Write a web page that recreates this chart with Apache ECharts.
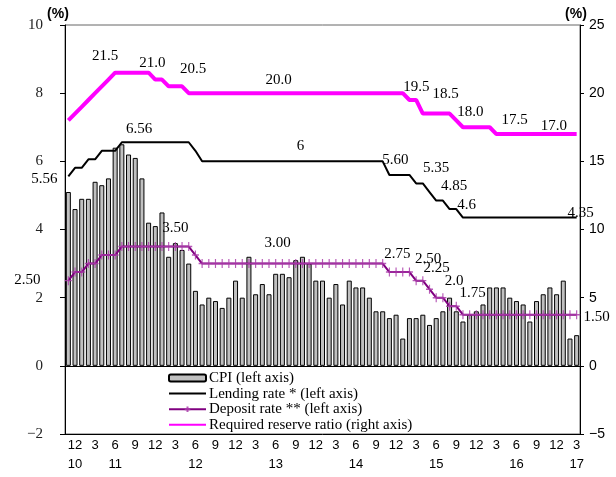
<!DOCTYPE html>
<html>
<head>
<meta charset="utf-8">
<script src="https://cdn.jsdelivr.net/npm/echarts@6/dist/echarts.min.js"></script>
<style>
  html, body { margin: 0; padding: 0; background: #fff; }
  #chart { width: 616px; height: 477px; }
</style>
</head>
<body>
<div id="chart"></div>
<script>
// Monthly categories, Nov 2010 – Mar 2017
const months = [
  '2010-11','2010-12',
  '2011-01','2011-02','2011-03','2011-04','2011-05','2011-06','2011-07','2011-08','2011-09','2011-10','2011-11','2011-12',
  '2012-01','2012-02','2012-03','2012-04','2012-05','2012-06','2012-07','2012-08','2012-09','2012-10','2012-11','2012-12',
  '2013-01','2013-02','2013-03','2013-04','2013-05','2013-06','2013-07','2013-08','2013-09','2013-10','2013-11','2013-12',
  '2014-01','2014-02','2014-03','2014-04','2014-05','2014-06','2014-07','2014-08','2014-09','2014-10','2014-11','2014-12',
  '2015-01','2015-02','2015-03','2015-04','2015-05','2015-06','2015-07','2015-08','2015-09','2015-10','2015-11','2015-12',
  '2016-01','2016-02','2016-03','2016-04','2016-05','2016-06','2016-07','2016-08','2016-09','2016-10','2016-11','2016-12',
  '2017-01','2017-02','2017-03'
];

// CPI, year-on-year (%)
const cpi = [
  5.1, 4.6,
  4.9, 4.9, 5.4, 5.3, 5.5, 6.4, 6.5, 6.2, 6.1, 5.5, 4.2, 4.1,
  4.5, 3.2, 3.6, 3.4, 3.0, 2.2, 1.8, 2.0, 1.9, 1.7, 2.0, 2.5,
  2.0, 3.2, 2.1, 2.4, 2.1, 2.7, 2.7, 2.6, 3.1, 3.2, 3.0, 2.5,
  2.5, 2.0, 2.4, 1.8, 2.5, 2.3, 2.3, 2.0, 1.6, 1.6, 1.4, 1.5,
  0.8, 1.4, 1.4, 1.5, 1.2, 1.4, 1.6, 2.0, 1.6, 1.3, 1.5, 1.6,
  1.8, 2.3, 2.3, 2.3, 2.0, 1.9, 1.8, 1.3, 1.9, 2.1, 2.3, 2.1,
  2.5, 0.8, 0.9
];

// One-year benchmark lending rate (%)
const lendingRate = [
  5.56, 5.81,
  5.81, 6.06, 6.06, 6.31, 6.31, 6.31, 6.56, 6.56, 6.56, 6.56, 6.56, 6.56,
  6.56, 6.56, 6.56, 6.56, 6.56, 6.31, 6.00, 6.00, 6.00, 6.00, 6.00, 6.00,
  6.00, 6.00, 6.00, 6.00, 6.00, 6.00, 6.00, 6.00, 6.00, 6.00, 6.00, 6.00,
  6.00, 6.00, 6.00, 6.00, 6.00, 6.00, 6.00, 6.00, 6.00, 6.00, 5.60, 5.60,
  5.60, 5.60, 5.35, 5.35, 5.10, 4.85, 4.85, 4.60, 4.60, 4.35, 4.35, 4.35,
  4.35, 4.35, 4.35, 4.35, 4.35, 4.35, 4.35, 4.35, 4.35, 4.35, 4.35, 4.35,
  4.35, 4.35, 4.35
];

// One-year benchmark deposit rate (%)
const depositRate = [
  2.50, 2.75,
  2.75, 3.00, 3.00, 3.25, 3.25, 3.25, 3.50, 3.50, 3.50, 3.50, 3.50, 3.50,
  3.50, 3.50, 3.50, 3.50, 3.50, 3.25, 3.00, 3.00, 3.00, 3.00, 3.00, 3.00,
  3.00, 3.00, 3.00, 3.00, 3.00, 3.00, 3.00, 3.00, 3.00, 3.00, 3.00, 3.00,
  3.00, 3.00, 3.00, 3.00, 3.00, 3.00, 3.00, 3.00, 3.00, 3.00, 2.75, 2.75,
  2.75, 2.75, 2.50, 2.50, 2.25, 2.00, 2.00, 1.75, 1.75, 1.50, 1.50, 1.50,
  1.50, 1.50, 1.50, 1.50, 1.50, 1.50, 1.50, 1.50, 1.50, 1.50, 1.50, 1.50,
  1.50, 1.50, 1.50
];

// Required reserve ratio, large banks (%)
const reserveRatio = [
  18.0, 18.5,
  19.0, 19.5, 20.0, 20.5, 21.0, 21.5, 21.5, 21.5, 21.5, 21.5, 21.5, 21.0,
  21.0, 20.5, 20.5, 20.5, 20.0, 20.0, 20.0, 20.0, 20.0, 20.0, 20.0, 20.0,
  20.0, 20.0, 20.0, 20.0, 20.0, 20.0, 20.0, 20.0, 20.0, 20.0, 20.0, 20.0,
  20.0, 20.0, 20.0, 20.0, 20.0, 20.0, 20.0, 20.0, 20.0, 20.0, 20.0, 20.0,
  20.0, 19.5, 19.5, 18.5, 18.5, 18.5, 18.5, 18.5, 18.0, 17.5, 17.5, 17.5,
  17.5, 17.5, 17.0, 17.0, 17.0, 17.0, 17.0, 17.0, 17.0, 17.0, 17.0, 17.0,
  17.0, 17.0, 17.0
];

// Value annotations: [category index, text]
const lendingLabels = [[0,'5.56'],[10,'6.56'],[35,'6'],[48,'5.60'],[52,'5.35'],[55,'4.85'],[57,'4.6'],[76,'4.35']];
const depositLabels = [[0,'2.50'],[16,'3.50'],[31,'3.00'],[48,'2.75'],[52,'2.50'],[54,'2.25'],[55,'2.0'],[57,'1.75'],[76,'1.50']];
const reserveLabels = [[7,'21.5'],[13,'21.0'],[17,'20.5'],[31,'20.0'],[51,'19.5'],[54,'18.5'],[58,'18.0'],[63,'17.5'],[72,'17.0']];

// Tick labels on the time axis
const monthTicks = ['12','3','6','9'];
const yearTicks = {'2010-12':'10','2011-06':'11','2012-06':'12','2013-06':'13','2014-06':'14','2015-06':'15','2016-06':'16','2017-03':'17'};

// Label placement (pixel offsets from the point)
const lendingLabelOffsets = [[-24,3],[4,-13],[-2,-15],[6,-15],[20,-15],[18,-14],[17,-4],[4,-5]];
const depositLabelOffsets = [[-41,-1],[0,-18],[2,-21],[8,-18],[12,-22],[7,-21],[18,-17],[23,-13],[20,2]];
const reserveLabelOffsets = [[-10,-17],[-3,-16],[11,-17],[3,-13],[7,-13],[16,-20],[14,-8],[25,-7],[4,-8]];

const SERIF = '"Liberation Serif", "Times New Roman", serif';
const NARROW = '"Liberation Sans Narrow", "Liberation Sans", Arial, sans-serif';

const labelText = { fontFamily: SERIF, fontSize: 15, color: '#000' };

function annotate(values, labels, offsets, keepSymbol) {
  return values.map(function (v, i) {
    const k = labels.findIndex(function (l) { return l[0] === i; });
    if (k < 0) return v;
    const item = {
      value: v,
      label: Object.assign({
        show: true,
        formatter: labels[k][1],
        position: 'inside',
        offset: offsets[k]
      }, labelText)
    };
    if (!keepSymbol) {
      item.symbol = 'circle';
      item.symbolSize = 0.1;
      item.itemStyle = { color: 'rgba(0,0,0,0)' };
    }
    return item;
  });
}

// Unit captions above both value axes
function unitCaption(x) {
  return {
    type: 'text',
    x: x, y: 14,
    style: {
      text: '(%)',
      font: 'bold 14px "Liberation Sans", Arial, sans-serif',
      fill: '#000',
      align: 'center',
      verticalAlign: 'middle'
    }
  };
}

const chart = echarts.init(document.getElementById('chart'), null, { renderer: 'canvas' });

chart.setOption({
  animation: false,
  backgroundColor: '#fff',
  grid: {
    left: 65, right: 36, top: 25, bottom: 43,
    show: true, borderColor: '#666', borderWidth: 1, backgroundColor: 'transparent'
  },
  graphic: [unitCaption(58), unitCaption(576)],
  legend: {
    orient: 'vertical',
    left: 168, top: 370.5,
    padding: 0,
    itemWidth: 37, itemHeight: 7, itemGap: 0.6,
    textStyle: { fontFamily: SERIF, fontSize: 15, lineHeight: 15, color: '#000', padding: [0, 0, 0, -2] },
    data: [
      { name: 'CPI (left axis)' },
      { name: 'Lending rate * (left axis)', itemStyle: { opacity: 0 } },
      { name: 'Deposit rate ** (left axis)' },
      { name: 'Required reserve ratio (right axis)', itemStyle: { opacity: 0 } }
    ]
  },
  xAxis: [
    {
      type: 'category',
      data: months,
      position: 'bottom',
      boundaryGap: true,
      axisLine: { show: true, onZero: false, lineStyle: { color: '#000', width: 1 } },
      axisTick: { show: false },
      splitLine: { show: false },
      axisLabel: {
        interval: function (i, v) { return monthTicks.indexOf(String(+v.slice(5))) >= 0; },
        formatter: function (v) { return String(+v.slice(5)); },
        fontFamily: NARROW, fontSize: 13, color: '#000', margin: 5
      }
    },
    {
      type: 'category',
      data: months,
      position: 'bottom',
      offset: 19,
      boundaryGap: true,
      axisLine: { show: false },
      axisTick: { show: false },
      splitLine: { show: false },
      axisLabel: {
        interval: function (i, v) { return yearTicks[v] !== undefined; },
        formatter: function (v) { return yearTicks[v] || ''; },
        fontFamily: NARROW, fontSize: 13, color: '#000', margin: 5
      }
    }
  ],
  yAxis: [
    {
      type: 'value',
      min: -2, max: 10, interval: 2,
      position: 'left',
      axisLine: { show: true, lineStyle: { color: '#000', width: 1 } },
      axisTick: { show: true, length: 5, lineStyle: { color: '#000' } },
      splitLine: { show: false },
      axisLabel: {
        fontFamily: SERIF, fontSize: 15, color: '#222', margin: 22,
        formatter: function (v) { return v < 0 ? '\u2212' + (-v) : String(v); }
      }
    },
    {
      type: 'value',
      min: -5, max: 25, interval: 5,
      position: 'right',
      axisLine: { show: true, lineStyle: { color: '#000', width: 1 } },
      axisTick: { show: true, length: 4, lineStyle: { color: '#000' } },
      splitLine: { show: false },
      axisLabel: {
        fontFamily: NARROW, fontSize: 14, color: '#000', margin: 9,
        formatter: function (v) { return v < 0 ? '\u2212' + (-v) : String(v); }
      }
    }
  ],
  series: [
    {
      name: 'CPI (left axis)',
      type: 'bar',
      data: cpi,
      xAxisIndex: 0, yAxisIndex: 0,
      barCategoryGap: '25%',
      itemStyle: { color: '#c0c0c0', borderColor: '#000', borderWidth: 1 },
      emphasis: { disabled: true },
      z: 2,
      markLine: {
        silent: true,
        symbol: 'none',
        label: { show: false },
        lineStyle: { color: '#000', width: 1, type: 'solid' },
        data: [{ yAxis: 0 }]
      }
    },
    {
      name: 'Lending rate * (left axis)',
      type: 'line',
      data: annotate(lendingRate, lendingLabels, lendingLabelOffsets, false),
      yAxisIndex: 0,
      symbol: 'none',
      showAllSymbol: true,
      lineStyle: { color: '#000', width: 2 },
      itemStyle: { color: '#000' },
      emphasis: { disabled: true },
      z: 4
    },
    {
      name: 'Deposit rate ** (left axis)',
      type: 'line',
      data: annotate(depositRate, depositLabels, depositLabelOffsets, true),
      yAxisIndex: 0,
      symbol: 'path://M5,0 L5,10 M0,5 L10,5',
      symbolSize: [7, 9],
      showSymbol: true,
      showAllSymbol: true,
      lineStyle: { color: '#800080', width: 2 },
      itemStyle: { color: 'rgba(170,60,170,0.85)', borderColor: 'rgba(170,60,170,0.85)', borderWidth: 1.3 },
      emphasis: { disabled: true },
      z: 5
    },
    {
      name: 'Required reserve ratio (right axis)',
      type: 'line',
      data: annotate(reserveRatio, reserveLabels, reserveLabelOffsets, false),
      yAxisIndex: 1,
      symbol: 'none',
      showAllSymbol: true,
      lineStyle: { color: '#ff00ff', width: 4 },
      itemStyle: { color: '#ff00ff' },
      emphasis: { disabled: true },
      z: 3
    }
  ]
});
</script>
</body>
</html>
